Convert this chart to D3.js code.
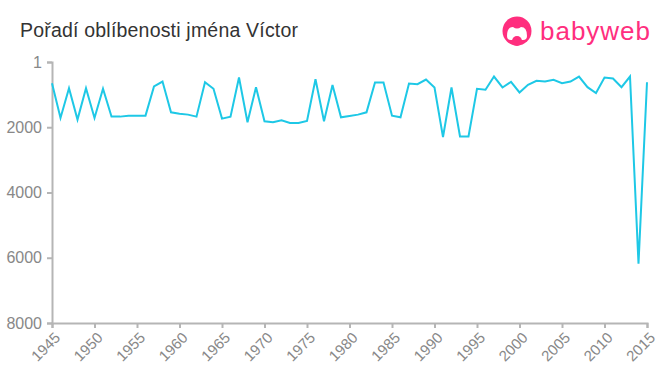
<!DOCTYPE html>
<html lang="en">
<head>
<meta charset="utf-8">
<script src="https://d3js.org/d3.v7.min.js"></script>
<style>
  body { margin: 0; background: #fff; }
  text { font-family: "Liberation Sans", Arial, sans-serif; }
</style>
</head>
<body>
<script>
// years 1945..2015, popularity rank of the name
var years = d3.range(1945, 2016);
var ranks = [650, 1716, 802, 1766, 802, 1716, 822, 1675, 1675, 1645,
             1645, 1645, 751, 599, 1543, 1584, 1614, 1675, 619, 822,
             1736, 1675, 477, 1848, 772, 1817, 1848, 1787, 1868, 1868,
             1807, 528, 1817, 705, 1695, 1655, 1614, 1543, 629, 629,
             1645, 1695, 660, 680, 538, 782, 2300, 782, 2284, 2284,
             822, 853, 447, 782, 609, 934, 700, 579, 599, 548,
             650, 599, 447, 772, 954, 477, 508, 772, 447, 6180,
             620];
var yTicks = [1, 2000, 4000, 6000, 8000];
var xTicks = d3.range(1945, 2016, 5);

var width = 660, height = 375;
var svg = d3.select("body").append("svg")
    .attr("width", width)
    .attr("height", height);

var x = d3.scaleLinear().domain([1945, 2015]).range([52, 647]);
var y = d3.scaleLinear().domain([1, 8000]).range([62, 323]);

// title
svg.append("text")
    .attr("x", 20)
    .attr("y", 37)
    .attr("font-size", 19.5)
    .attr("textLength", 278)
    .attr("fill", "#333")
    .text("Pořadí oblíbenosti jména Víctor");

// logo
var logo = svg.append("g").attr("transform", "translate(517,31)");
logo.append("circle").attr("r", 14.5).attr("fill", "#ff2e7e");
logo.append("path")
    .attr("d", "M-10,5 Q-10,-4 -4,-4 Q0,-1 4,-4 Q10,-4 10,5 Q10,9 6,9 L-6,9 Q-10,9 -10,5 Z")
    .attr("fill", "#fff");
logo.append("circle").attr("cx", 0).attr("cy", 10).attr("r", 5).attr("fill", "#ff2e7e");
logo.append("text")
    .attr("x", 23)
    .attr("y", 9)
    .attr("font-size", 26)
    .attr("textLength", 110)
    .attr("fill", "#ff2e7e")
    .text("babyweb");

// axes
var yAxis = svg.append("g")
    .attr("transform", "translate(52,0)")
    .call(d3.axisLeft(y).tickValues(yTicks).tickSize(5).tickPadding(5).tickFormat(d3.format("d")));
var xAxis = svg.append("g")
    .attr("transform", "translate(0,323)")
    .call(d3.axisBottom(x).tickValues(xTicks).tickSize(5).tickFormat(d3.format("d")));

[yAxis, xAxis].forEach(function(a) {
    a.select(".domain").attr("stroke", "#b5b5b5").attr("stroke-width", 2);
    a.selectAll(".tick line").attr("stroke", "#b5b5b5").attr("stroke-width", 2);
    a.selectAll(".tick text")
        .attr("fill", "#888")
        .attr("font-size", 16)
        .attr("font-family", "Liberation Sans, Arial, sans-serif");
});

xAxis.selectAll(".tick text")
    .attr("font-size", 15)
    .style("text-anchor", "end")
    .attr("x", 0)
    .attr("y", 0)
    .attr("dy", "0.35em")
    .attr("transform", "translate(5,12) rotate(-45)");

// line
var line = d3.line()
    .x(function(d, i) { return x(years[i]); })
    .y(function(d) { return y(d); });

svg.append("path")
    .datum(ranks)
    .attr("fill", "none")
    .attr("stroke", "#1ec8e6")
    .attr("stroke-width", 2)
    .attr("d", line);
</script>
</body>
</html>
